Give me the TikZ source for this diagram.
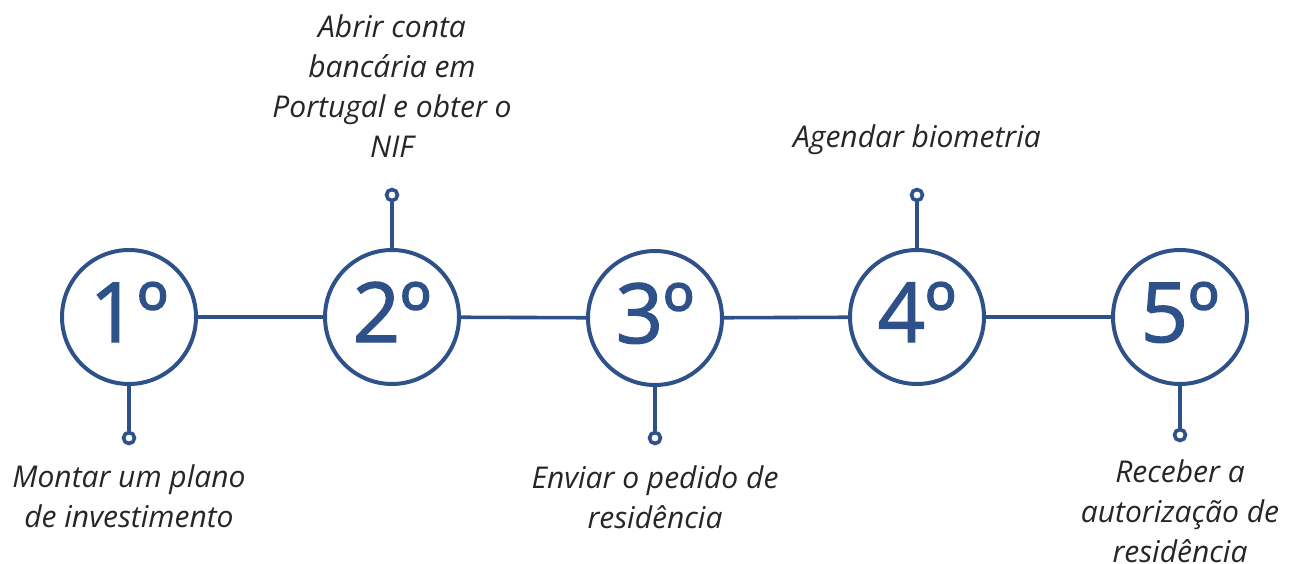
\documentclass[tikz,border=0pt]{standalone}
\usepackage{fontspec}
\setmainfont{Open Sans}
\newfontfamily\numfont[FakeBold=1.6]{Open Sans}
\definecolor{stepblue}{HTML}{2F5189}
\definecolor{labelgray}{HTML}{262626}
\begin{document}
\begin{tikzpicture}[x=1pt,y=-1pt,
  bigcirc/.style={circle,draw=stepblue,line width=4pt,minimum size=134pt,inner sep=0pt,
    text=stepblue,font=\numfont\fontsize{83}{83}\selectfont,text height=60pt,text depth=10pt},
  dotnode/.style={circle,draw=stepblue,line width=3.6pt,minimum size=11pt,inner sep=0pt,fill=white},
  link/.style={draw=stepblue,line width=3.6pt},
  steplabel/.style={align=center,anchor=base,inner sep=0pt,text=labelgray,
    font=\fontsize{30}{40}\selectfont\itshape}]
\useasboundingbox (0,0) rectangle (1291,564);
\node[bigcirc] (c1) at (129,317) {1º};
\node[bigcirc] (c2) at (392,317) {2º};
\node[bigcirc] (c3) at (655,318) {3º};
\node[bigcirc] (c4) at (917,317) {4º};
\node[bigcirc] (c5) at (1180,317) {5º};
\draw[link] (c1) -- (c2);
\draw[link] (c2) -- (c3);
\draw[link] (c3) -- (c4);
\draw[link] (c4) -- (c5);
\node[dotnode] (d1) at (129,438) {};
\node[dotnode] (d2) at (392,195) {};
\node[dotnode] (d3) at (655,438) {};
\node[dotnode] (d4) at (917,195) {};
\node[dotnode] (d5) at (1180,435) {};
\draw[link] (c1.south) -- (d1.north);
\draw[link] (c2.north) -- (d2.south);
\draw[link] (c3.south) -- (d3.north);
\draw[link] (c4.north) -- (d4.south);
\draw[link] (c5.south) -- (d5.north);
\node[steplabel] (t1) at (129,527) {Montar um plano\\de investimento};
\node[steplabel] (t2) at (392,158) {Abrir conta\\bancária em\\Portugal e obter o\\NIF};
\node[steplabel] (t3) at (655,528) {Enviar o pedido de\\residência};
\node[steplabel] (t4) at (917,148) {Agendar biometria};
\node[steplabel] (t5) at (1180,562) {Receber a\\autorização de\\residência};
\end{tikzpicture}
\end{document}
